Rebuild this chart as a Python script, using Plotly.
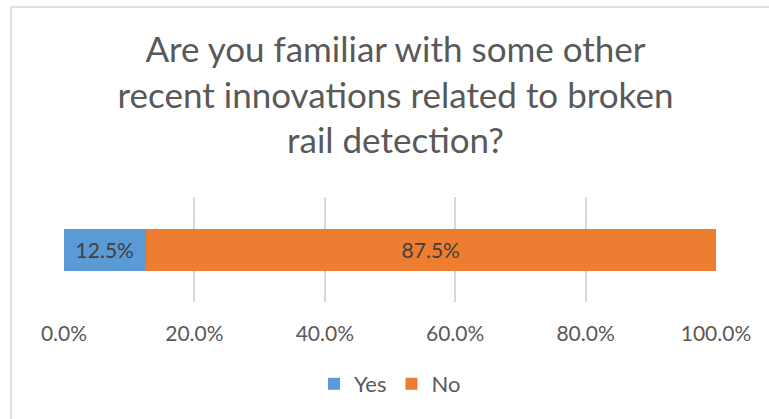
import plotly.graph_objects as go

# Survey answers (share of respondents)
answers = ["Yes", "No"]
shares = [0.125, 0.875]
colors = ["#5B9BD5", "#ED7D31"]
tick_vals = [0.0, 0.2, 0.4, 0.6, 0.8, 1.0]

W, H = 769, 419
ML, MR, MT, MB = 64, 53, 197, 117
plot_w = W - ML - MR
plot_h = H - MT - MB

FONT = "Lato"
GREY = "#595959"

fig = go.Figure()
for name, val, col in zip(answers, shares, colors):
    fig.add_trace(go.Bar(
        x=[val], y=[""], name=name, orientation="h",
        marker=dict(color=col, line=dict(width=0)),
        width=0.4,
        texttemplate="%{x:.1%}", textposition="inside",
        insidetextanchor="middle",
        textfont=dict(family=FONT, size=21, color="#404040"),
        hoverinfo="skip",
    ))

# chart frame (light grey border on top and left)
def px_x(p):
    return (p - ML) / plot_w

def px_y(p):
    return (H - MB - p) / plot_h

frame = dict(color="#d9d9d9", width=1.5)
fig.add_shape(type="line", xref="paper", yref="paper",
              x0=px_x(11), x1=px_x(11), y0=px_y(H + 5), y1=px_y(7), line=frame)
fig.add_shape(type="line", xref="paper", yref="paper",
              x0=px_x(11), x1=px_x(W + 5), y0=px_y(7), y1=px_y(7), line=frame)

fig.update_layout(
    width=W, height=H,
    margin=dict(l=ML, r=MR, t=MT, b=MB, pad=0),
    barmode="stack",
    paper_bgcolor="white", plot_bgcolor="white",
    title=dict(
        text="Are you familiar with some other<br>recent innovations related to broken<br>rail detection?",
        x=(148 + 643) / 2 / W, xref="container", xanchor="center",
        y=1 - 62 / H, yref="container", yanchor="top",
        font=dict(family=FONT, size=35, color=GREY),
    ),
    xaxis=dict(
        range=[0, 1], tickvals=tick_vals, tickformat=".1%",
        showgrid=True, gridcolor="#d9d9d9", gridwidth=2,
        zeroline=False, showline=False, ticks="",
        ticklabelstandoff=17,
        tickfont=dict(family=FONT, size=21, color=GREY),
        fixedrange=True,
    ),
    yaxis=dict(
        range=[-0.5, 0.5], showticklabels=False, showgrid=False,
        zeroline=False, showline=False, fixedrange=True,
    ),
    legend=dict(
        orientation="h", x=0.5, xanchor="center",
        y=px_y(384), yanchor="middle",
        font=dict(family=FONT, size=22, color=GREY),
        itemwidth=30, traceorder="normal",
    ),
    showlegend=True,
)

fig.write_html("out.html")
